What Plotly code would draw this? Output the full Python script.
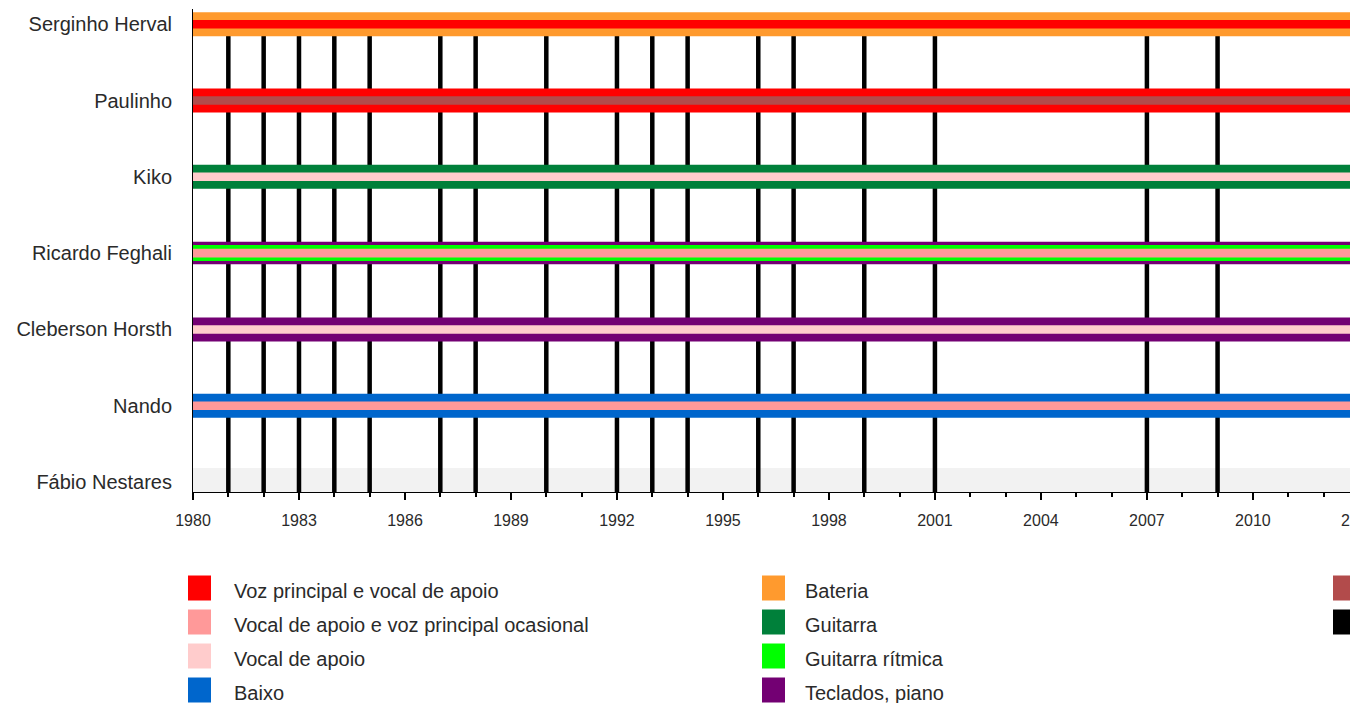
import plotly.graph_objects as go

# ---------------- data ----------------
members = ["Serginho Herval", "Paulinho", "Kiko", "Ricardo Feghali",
           "Cleberson Horsth", "Nando", "Fábio Nestares"]
start_year = [1980, 1980, 1980, 1980, 1980, 1980, None]
end_year = [2021, 2020, 2021, 2021, 2021, 2021, None]
outer_role = ["Bateria", "Voz principal e vocal de apoio", "Guitarra", "Teclados, piano",
              "Teclados, piano", "Baixo", None]
middle_role = [None, None, None, "Guitarra rítmica", None, None, None]
inner_role = ["Voz principal e vocal de apoio", "Percussão", "Vocal de apoio",
              "Vocal de apoio e voz principal ocasional", "Vocal de apoio",
              "Vocal de apoio e voz principal ocasional", None]

album_years = [1981, 1982, 1983, 1984, 1985, 1987, 1988, 1990, 1992, 1993, 1994,
               1996, 1997, 1999, 2001, 2007, 2009]

roles = ["Voz principal e vocal de apoio", "Vocal de apoio e voz principal ocasional",
         "Vocal de apoio", "Baixo", "Bateria", "Guitarra", "Guitarra rítmica",
         "Teclados, piano", "Percussão", "Álbuns de estúdio"]
role_colors = ["#ff0000", "#ff9999", "#ffcccc", "#0066cc", "#ff9a2e", "#00803a",
               "#00ff00", "#730073", "#b24b4b", "#000000"]

tick_years = list(range(1980, 2014, 3))
axis_start = 1980

# ---------------- layout geometry ----------------
W, H = 1420, 703
PL, PT, PB = 193, 9, 492          # plot area left / top / bottom (px)
PX_PER_YEAR = 35.33
ROW_PX = 76.3
ROW0_PX = 482                      # pixel centre of bottom row

x_end = axis_start + (W - PL) / PX_PER_YEAR
y_lo = -(PB - ROW0_PX) / ROW_PX
y_hi = (ROW0_PX - PT) / ROW_PX

color_of = dict(zip(roles, role_colors))
n = len(members)
yval = {m: n - 1 - i for i, m in enumerate(members)}

fig = go.Figure()

# grey background band on last row
last = members[-1]
band_top = yval[last] + (ROW0_PX - 468) / ROW_PX
fig.add_trace(go.Scatter(
    x=[axis_start, 2030, 2030, axis_start, axis_start],
    y=[y_lo, y_lo, band_top, band_top, y_lo],
    fill="toself", fillcolor="#f2f2f2", line=dict(width=0), mode="lines",
    hoverinfo="skip", showlegend=False))

# album release lines
ax, ay = [], []
for yr in album_years:
    ax += [yr, yr, None]
    ay += [y_lo, yval[members[0]], None]
fig.add_trace(go.Scatter(x=ax, y=ay, mode="lines",
                         line=dict(color=color_of["Álbuns de estúdio"], width=4.5),
                         hoverinfo="skip", showlegend=False))

# member bars (layered)
for i, m in enumerate(members):
    if start_year[i] is None:
        continue
    if middle_role[i]:
        layers = [(outer_role[i], 22.5), (middle_role[i], 16), (inner_role[i], 8.7)]
    else:
        layers = [(outer_role[i], 24), (inner_role[i], 8.5)]
    for role, w in layers:
        if role is None:
            continue
        fig.add_trace(go.Scatter(
            x=[start_year[i], end_year[i]], y=[yval[m], yval[m]], mode="lines",
            line=dict(color=color_of[role], width=w),
            name=role, hoverinfo="name", showlegend=False))

# ---------------- legend (custom) ----------------
def px2paper_x(px):
    return (px - PL) / (W - PL)

def px2paper_y(py):
    return (PB - py) / (PB - PT)

col_sq_x = [188, 762, 1333]
col_txt_x = [232, 803, 1377]
row_y = [588, 622, 656, 690]
legend_cols = [roles[0:4], roles[4:8], roles[8:10]]
shapes = []
annotations = []
for c, col in enumerate(legend_cols):
    for r, role in enumerate(col):
        cy = row_y[r]
        shapes.append(dict(type="rect", xref="paper", yref="paper",
                           x0=px2paper_x(col_sq_x[c]), x1=px2paper_x(col_sq_x[c] + 23),
                           y0=px2paper_y(cy - 12.5), y1=px2paper_y(cy + 12.5),
                           fillcolor=color_of[role], line=dict(width=0)))
        annotations.append(dict(text=role, xref="paper", yref="paper",
                                x=px2paper_x(col_txt_x[c]), y=px2paper_y(cy + 3),
                                xanchor="left", yanchor="middle", showarrow=False,
                                font=dict(size=20, color="#2a2a2a", family="Liberation Sans")))

fig.update_layout(
    width=W, height=H,
    margin=dict(l=PL, r=0, t=PT, b=H - PB, pad=0),
    paper_bgcolor="white", plot_bgcolor="white",
    font=dict(family="Liberation Sans", color="#2a2a2a"),
    showlegend=False,
    shapes=shapes, annotations=annotations,
    xaxis=dict(range=[axis_start, x_end], showgrid=False, zeroline=False,
               showline=True, linecolor="black", linewidth=1,
               tickmode="array", tickvals=tick_years, ticktext=[str(t) for t in tick_years],
               ticks="outside", ticklen=7, tickcolor="black", tickwidth=1.5,
               minor=dict(ticks="outside", ticklen=4, tickcolor="black", tickwidth=1.5,
                          dtick=1, tick0=axis_start, showgrid=False),
               tickfont=dict(size=16, color="#2a2a2a"), ticklabelstandoff=7),
    yaxis=dict(range=[y_lo, y_hi], showgrid=False, zeroline=False,
               showline=True, linecolor="black", linewidth=1,
               tickmode="array", tickvals=[yval[m] for m in members], ticktext=members,
               ticks="", tickfont=dict(size=20, color="#2a2a2a"), ticklabelstandoff=16),
)

fig.write_html("out.html", config={"displayModeBar": False},
               post_script="document.body.style.margin='0';document.body.style.overflow='hidden';document.documentElement.style.overflow='hidden';")
